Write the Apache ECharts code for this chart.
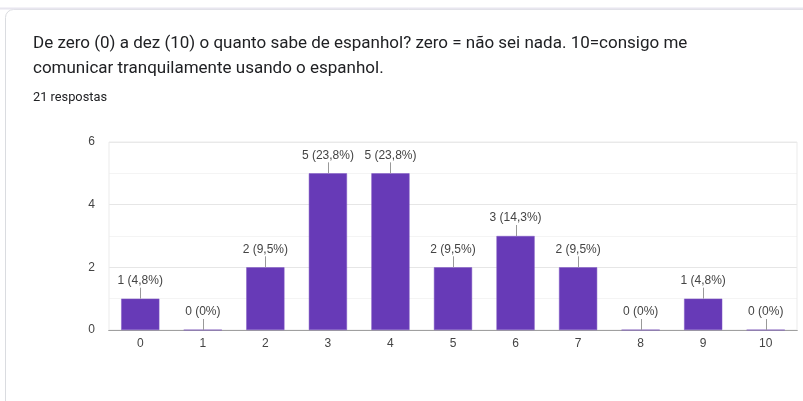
<!DOCTYPE html>
<html>
<head>
<meta charset="utf-8">
<script src="https://cdn.jsdelivr.net/npm/echarts@6/dist/echarts.min.js"></script>
<style>
html,body{margin:0;padding:0;background:#fff;}
#c{width:803px;height:401px;}
</style>
</head>
<body>
<div id="c"></div>
<script>
var categories = ['0','1','2','3','4','5','6','7','8','9','10'];
var counts = [1, 0, 2, 5, 5, 2, 3, 2, 0, 1, 0];
var valueLabels = ['1 (4,8%)','0 (0%)','2 (9,5%)','5 (23,8%)','5 (23,8%)','2 (9,5%)','3 (14,3%)','2 (9,5%)','0 (0%)','1 (4,8%)','0 (0%)'];
var yTicks = [0, 2, 4, 6];
var titleLine1 = 'De zero (0) a dez (10) o quanto sabe de espanhol? zero = não sei nada. 10=consigo me';
var titleLine2 = 'comunicar tranquilamente usando o espanhol.';
var responsesText = '21 respostas';

var chart = echarts.init(document.getElementById('c'), null, {renderer: 'canvas'});
var labelFont = '"Liberation Sans", Arial, sans-serif';
var option = {
  animation: false,
  backgroundColor: '#ffffff',
  graphic: [
    {type: 'line', shape: {x1: 0, y1: 8.5, x2: 803, y2: 8.5}, style: {stroke: '#e8e6ef', lineWidth: 2}, z: 1},
    {type: 'rect', shape: {x: 5.5, y: 9.5, width: 840, height: 440, r: 8}, style: {fill: '#ffffff', stroke: '#dadce0', lineWidth: 1}, z: 0},
    {type: 'text', left: 33, top: 35, style: {text: titleLine1, font: '17px Roboto, "Noto Sans", sans-serif', fill: '#202124'}, z: 5},
    {type: 'text', left: 33, top: 60, style: {text: titleLine2, font: '17px Roboto, "Noto Sans", sans-serif', fill: '#202124'}, z: 5},
    {type: 'text', left: 33, top: 91, style: {text: responsesText, font: '12.8px Roboto, "Noto Sans", sans-serif', fill: '#202124'}, z: 5}
  ],
  grid: {left: 109, right: 6, top: 142, bottom: 71, show: true, borderColor: '#ebebeb', borderWidth: 1, z: 2},
  xAxis: {
    type: 'category',
    data: categories,
    axisTick: {show: false},
    axisLine: {lineStyle: {color: '#555', width: 1}},
    axisLabel: {color: '#444', fontSize: 12, fontFamily: labelFont, margin: 8}
  },
  yAxis: {
    type: 'value',
    min: yTicks[0], max: yTicks[yTicks.length - 1], interval: 2,
    axisLine: {show: false},
    axisTick: {show: false},
    axisLabel: {color: '#444', fontSize: 12, fontFamily: labelFont, margin: 14},
    splitLine: {lineStyle: {color: '#e6e6e6'}},
    minorTick: {show: false, splitNumber: 2},
    minorSplitLine: {show: true, lineStyle: {color: '#f4f4f4'}}
  },
  series: [
    {
      type: 'bar',
      data: counts,
      barWidth: '61%',
      itemStyle: {color: '#673ab7', borderColor: '#7e57c2', borderWidth: 0.5},
      z: 3
    },
    {
      type: 'custom',
      data: counts.map(function (v, i) { return [i, v]; }),
      z: 4,
      renderItem: function (params, api) {
        var i = api.value(0), v = api.value(1);
        var p = api.coord([i, v]);
        return {
          type: 'group',
          children: [
            {type: 'line', shape: {x1: Math.round(p[0]) + 0.5, y1: p[1], x2: Math.round(p[0]) + 0.5, y2: p[1] - 11}, style: {stroke: '#999', lineWidth: 1}},
            {type: 'text', x: p[0], y: p[1] - 12, style: {text: valueLabels[i], font: '12px ' + labelFont, fill: '#444', align: 'center', verticalAlign: 'bottom'}}
          ]
        };
      }
    }
  ]
};
chart.setOption(option);
</script>
</body>
</html>
